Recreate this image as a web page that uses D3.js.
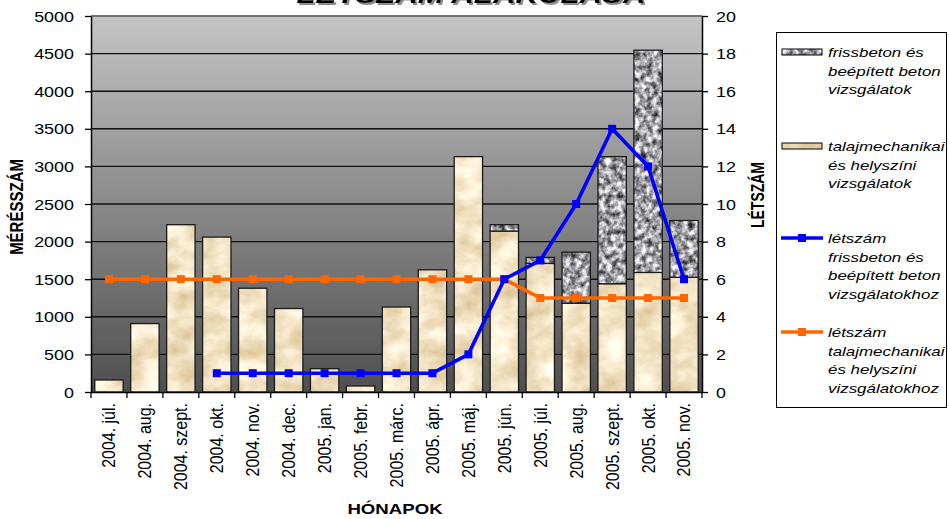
<!DOCTYPE html>
<html>
<head>
<meta charset="utf-8">
<script src="https://cdn.jsdelivr.net/npm/d3@7"></script>
<style>
  html, body { margin: 0; padding: 0; background: #ffffff; }
  svg { display: block; }
  text { font-family: "Liberation Sans", Arial, sans-serif; fill: #000; }
</style>
</head>
<body>
<svg id="chart" width="949" height="519"></svg>
<script>
// Months on the category axis
const months = ["2004. júl.", "2004. aug.", "2004. szept.", "2004. okt.", "2004. nov.", "2004. dec.",
  "2005. jan.", "2005. febr.", "2005. márc.", "2005. ápr.", "2005. máj.", "2005. jún.",
  "2005. júl.", "2005. aug.", "2005. szept.", "2005. okt.", "2005. nov."];

// Number of measurements (left axis), stacked: soil/site tests at the bottom, concrete tests on top
const talajMeres = [160, 910, 2225, 2060, 1380, 1110, 310, 80, 1130, 1625, 3130, 2140, 1710, 1180, 1440, 1590, 1525];
const betonMeres = [0, 0, 0, 0, 0, 0, 0, 0, 0, 0, 0, 85, 80, 680, 1690, 2955, 755];

// Headcount (right axis)
const letszamBeton = [null, null, null, 1, 1, 1, 1, 1, 1, 1, 2, 6, 7, 10, 14, 12, 6];
const letszamTalaj = [6, 6, 6, 6, 6, 6, 6, 6, 6, 6, 6, 6, 5, 5, 5, 5, 5];

const leftTicks = [0, 500, 1000, 1500, 2000, 2500, 3000, 3500, 4000, 4500, 5000];
const rightTicks = [0, 2, 4, 6, 8, 10, 12, 14, 16, 18, 20];

const legendItems = [
  { kind: "bar", fill: "url(#betonTex)", lines: ["frissbeton és", "beépített beton", "vizsgálatok"] },
  { kind: "bar", fill: "url(#talajTex)", lines: ["talajmechanikai", "és helyszíni", "vizsgálatok"] },
  { kind: "line", color: "#0000ff", lines: ["létszám", "frissbeton és", "beépített beton", "vizsgálatokhoz"] },
  { kind: "line", color: "#ff6600", lines: ["létszám", "talajmechanikai", "és helyszíni", "vizsgálatokhoz"] }
];

const W = 949, H = 519;
const plot = { left: 91, right: 702, top: 16, bottom: 392 };
const SX = 1.3; // horizontal widening of horizontal text

const svg = d3.select("#chart");

// widen horizontal text by a factor
function widen(sel, f) {
  sel.each(function () {
    const len = this.getComputedTextLength();
    d3.select(this).attr("textLength", len * f).attr("lengthAdjust", "spacingAndGlyphs");
  });
}

// ---------- defs: background gradient, title shadow and bar textures ----------
const defs = svg.append("defs");
const grad = defs.append("linearGradient").attr("id", "plotBg")
  .attr("x1", 0).attr("y1", 0).attr("x2", 0).attr("y2", 1);
grad.append("stop").attr("offset", "0%").attr("stop-color", "#c4c4c4");
grad.append("stop").attr("offset", "100%").attr("stop-color", "#4f4f4f");

const shadow = defs.append("filter").attr("id", "titleShadow")
  .attr("x", "-10%").attr("y", "-50%").attr("width", "120%").attr("height", "200%");
shadow.append("feDropShadow").attr("dx", 2).attr("dy", 2).attr("stdDeviation", 0.4)
  .attr("flood-color", "#8c8c8c").attr("flood-opacity", 1);

function textureFilter(id, freq, octaves, seed, matrix) {
  const f = defs.append("filter").attr("id", id)
    .attr("filterUnits", "userSpaceOnUse").attr("x", 0).attr("y", 0)
    .attr("width", W).attr("height", H)
    .attr("color-interpolation-filters", "sRGB");
  f.append("feTurbulence").attr("type", "fractalNoise").attr("baseFrequency", freq)
    .attr("numOctaves", octaves).attr("seed", seed);
  f.append("feColorMatrix").attr("type", "matrix").attr("values", matrix);
}
textureFilter("talajNoise", "0.035 0.05", 4, 4,
  "0.26 0 0 0 0.82  0.36 0 0 0 0.71  0.52 0 0 0 0.51  0 0 0 0 1");
textureFilter("betonNoise", "0.17", 3, 9,
  "1.5 0 0 0 -0.12  1.5 0 0 0 -0.12  1.5 0 0 0 -0.10  0 0 0 0 1");

function texturePattern(id, filterId) {
  const p = defs.append("pattern").attr("id", id)
    .attr("patternUnits", "userSpaceOnUse").attr("x", 0).attr("y", 0)
    .attr("width", W).attr("height", H);
  p.append("rect").attr("width", W).attr("height", H).attr("filter", `url(#${filterId})`);
}
texturePattern("talajTex", "talajNoise");
texturePattern("betonTex", "betonNoise");

// ---------- scales ----------
const x = d3.scaleBand().domain(months).range([plot.left, plot.right])
  .paddingInner(0.21).paddingOuter(0.105);
const yL = d3.scaleLinear().domain([0, 5000]).range([plot.bottom, plot.top]);
const yR = d3.scaleLinear().domain([0, 20]).range([plot.bottom, plot.top]);

// ---------- plot background and gridlines ----------
svg.append("rect")
  .attr("x", plot.left).attr("y", plot.top)
  .attr("width", plot.right - plot.left).attr("height", plot.bottom - plot.top)
  .attr("fill", "url(#plotBg)");

svg.append("g").selectAll("line")
  .data(leftTicks.filter(v => v > 0 && v < 5000))
  .join("line")
  .attr("x1", plot.left).attr("x2", plot.right)
  .attr("y1", d => yL(d)).attr("y2", d => yL(d))
  .attr("stroke", "#111").attr("stroke-width", 1.4);

svg.append("line")
  .attr("x1", plot.left).attr("x2", plot.right)
  .attr("y1", yL(5000)).attr("y2", yL(5000))
  .attr("stroke", "#707070").attr("stroke-width", 2);

// ---------- stacked bars ----------
const barG = svg.append("g");
barG.selectAll("rect.talaj")
  .data(months.map((m, i) => ({ m, v: talajMeres[i] })))
  .join("rect").attr("class", "talaj")
  .attr("x", d => x(d.m)).attr("width", x.bandwidth())
  .attr("y", d => yL(d.v)).attr("height", d => yL(0) - yL(d.v))
  .attr("fill", "url(#talajTex)").attr("stroke", "#1a1a1a").attr("stroke-width", 1.3);

barG.selectAll("rect.beton")
  .data(months.map((m, i) => ({ m, base: talajMeres[i], v: betonMeres[i] })).filter(d => d.v > 0))
  .join("rect").attr("class", "beton")
  .attr("x", d => x(d.m)).attr("width", x.bandwidth())
  .attr("y", d => yL(d.base + d.v)).attr("height", d => yL(d.base) - yL(d.base + d.v))
  .attr("fill", "url(#betonTex)").attr("stroke", "#1a1a1a").attr("stroke-width", 1.3);

// ---------- axes ----------
const axisLeft = svg.append("g").attr("transform", `translate(${plot.left},0)`)
  .call(d3.axisLeft(yL).tickValues(leftTicks).tickFormat(d3.format("d"))
    .tickSize(6).tickSizeOuter(0).tickPadding(11));
axisLeft.select(".domain").attr("stroke", "#000").attr("stroke-width", 1.5);
axisLeft.selectAll(".tick line").attr("stroke", "#000").attr("stroke-width", 1.3);
axisLeft.selectAll(".tick text")
  .style("font-family", "'Liberation Sans', Arial, sans-serif")
  .style("font-size", "14px").attr("fill", "#000").attr("dy", "0.36em")
  .call(widen, 1.28);

const axisRight = svg.append("g").attr("transform", `translate(${plot.right},0)`)
  .call(d3.axisRight(yR).tickValues(rightTicks).tickFormat(d3.format("d"))
    .tickSize(6).tickSizeOuter(0).tickPadding(8));
axisRight.select(".domain").attr("stroke", "#000").attr("stroke-width", 1.5);
axisRight.selectAll(".tick line").attr("stroke", "#000").attr("stroke-width", 1.3);
axisRight.selectAll(".tick text")
  .style("font-family", "'Liberation Sans', Arial, sans-serif")
  .style("font-size", "14px").attr("fill", "#000").attr("dy", "0.36em")
  .call(widen, 1.28);

const axisBottom = svg.append("g").attr("transform", `translate(0,${plot.bottom})`)
  .call(d3.axisBottom(x).tickSize(0).tickSizeOuter(0).tickPadding(0));
axisBottom.select(".domain").attr("stroke", "#000").attr("stroke-width", 1.5);
axisBottom.selectAll(".tick text")
  .style("font-family", "'Liberation Sans', Arial, sans-serif")
  .style("font-size", "16px").attr("fill", "#000")
  .attr("transform", "rotate(-90) scale(1,1.12)")
  .attr("text-anchor", "end")
  .attr("x", -11).attr("y", 0).attr("dy", "0.36em");

// category boundary ticks
const half = (x.step() - x.bandwidth()) / 2;
const bounds = months.map(m => x(m) - half).concat([plot.right]);
axisBottom.append("g").selectAll("line").data(bounds).join("line")
  .attr("x1", d => d).attr("x2", d => d).attr("y1", 0).attr("y2", 6)
  .attr("stroke", "#000").attr("stroke-width", 1.3);

// ---------- headcount lines ----------
function drawSeries(values, color) {
  const pts = months.map((m, i) => ({ m, v: values[i] })).filter(d => d.v != null);
  const line = d3.line().x(d => x(d.m) + x.bandwidth() / 2).y(d => yR(d.v));
  svg.append("path").datum(pts).attr("d", line)
    .attr("fill", "none").attr("stroke", color).attr("stroke-width", 3.6)
    .attr("stroke-linejoin", "round");
  svg.append("g").selectAll("rect").data(pts).join("rect")
    .attr("x", d => x(d.m) + x.bandwidth() / 2 - 4).attr("y", d => yR(d.v) - 4)
    .attr("width", 8).attr("height", 8).attr("fill", color);
}
drawSeries(letszamTalaj, "#ff6600");
drawSeries(letszamBeton, "#0000ff");

// ---------- titles ----------
svg.append("text").attr("x", 471).attr("y", 3)
  .attr("text-anchor", "middle").attr("fill", "#0a0a78")
  .attr("filter", "url(#titleShadow)")
  .style("font-size", "24px").style("font-weight", "bold").style("font-style", "italic")
  .text("LÉTSZÁM ALAKULÁSA").call(widen, 1.3);

svg.append("text")
  .attr("transform", "translate(23,207) rotate(-90) scale(1,1.2)")
  .attr("text-anchor", "middle")
  .style("font-size", "15px").style("font-weight", "bold")
  .text("MÉRÉSSZÁM");

svg.append("text")
  .attr("transform", "translate(764,195) rotate(-90) scale(1,1.25)")
  .attr("text-anchor", "middle")
  .style("font-size", "14px").style("font-weight", "bold")
  .text("LÉTSZÁM");

svg.append("text")
  .attr("x", 395).attr("y", 514).attr("text-anchor", "middle")
  .style("font-size", "14px").style("font-weight", "bold")
  .text("HÓNAPOK").call(widen, 1.33);

// ---------- legend ----------
const lg = svg.append("g");
lg.append("rect").attr("x", 776.5).attr("y", 32.5).attr("width", 170).attr("height", 375)
  .attr("fill", "#fff").attr("stroke", "#000").attr("stroke-width", 1);

const entryTop = [52, 146, 238, 332];
const lineGap = 18.5;
legendItems.forEach((it, k) => {
  const y0 = entryTop[k];
  if (it.kind === "bar") {
    lg.append("rect").attr("x", 782).attr("y", y0 - 3).attr("width", 40).attr("height", 6)
      .attr("fill", it.fill).attr("stroke", "#000").attr("stroke-width", 1);
  } else {
    lg.append("line").attr("x1", 781).attr("x2", 823).attr("y1", y0).attr("y2", y0)
      .attr("stroke", it.color).attr("stroke-width", 3.6);
    lg.append("rect").attr("x", 798).attr("y", y0 - 4).attr("width", 8).attr("height", 8)
      .attr("fill", it.color);
  }
  it.lines.forEach((t, j) => {
    lg.append("text").attr("x", 828).attr("y", y0 + 5 + j * lineGap)
      .style("font-size", "13px").style("font-style", "italic")
      .text(t).call(widen, SX);
  });
});
</script>
</body>
</html>
